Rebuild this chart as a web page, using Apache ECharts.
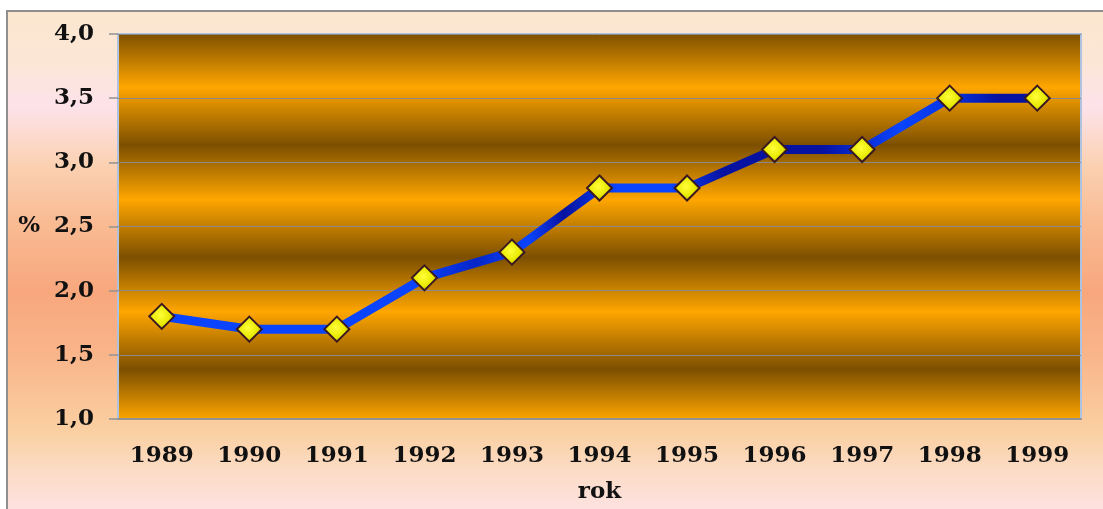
<!DOCTYPE html>
<html>
<head>
<meta charset="utf-8">
<script src="https://cdn.jsdelivr.net/npm/echarts@6/dist/echarts.min.js"></script>
<style>
  html, body { margin: 0; background: #fff; overflow: hidden; width: 1103px; height: 509px; }
  #frame {
    position: absolute; left: 6px; top: 10px; width: 1095px; height: 497px;
    border-left: 2px solid #8f8f8f; border-top: 2px solid #8f8f8f;
    background: linear-gradient(to bottom, #fbe7cf 0px, #fbe6d6 50px, #fde2ea 95px, #fbd2b4 150px,
      #f9bb93 210px, #f8a77d 280px, #f9b489 340px, #fad0a2 420px, #fcdcc6 460px, #fde2e2 499px);
  }
  #chart { position: absolute; left: 0; top: 0; width: 1103px; height: 509px; }
</style>
</head>
<body>
<div id="frame"></div>
<div id="chart"></div>
<script>
  // data
  const years = ["1989", "1990", "1991", "1992", "1993", "1994", "1995", "1996", "1997", "1998", "1999"];
  const values = [1.8, 1.7, 1.7, 2.1, 2.3, 2.8, 2.8, 3.1, 3.1, 3.5, 3.5];

  const dark = "#7c4f00";
  const bright = "#ffa600";
  const navy = "#0712a0";
  const blue = "#0a44ff";
  const labelFont = { fontFamily: "DejaVu Serif", fontWeight: "bold", fontSize: 23, color: "#111" };

  let myChart = echarts.init(document.getElementById("chart"));

  let option = {
    animation: false,
    backgroundColor: "transparent",
    grid: {
      left: 118,
      top: 34,
      right: 22,
      bottom: 88,
      show: true,
      borderColor: "#aec2e2",
      borderWidth: 2,
      backgroundColor: new echarts.graphic.LinearGradient(0, 0, 0, 1, [
        { offset: 0, color: dark },
        { offset: 0.14, color: bright },
        { offset: 0.29, color: dark },
        { offset: 0.43, color: bright },
        { offset: 0.58, color: dark },
        { offset: 0.72, color: bright },
        { offset: 0.87, color: dark },
        { offset: 1, color: bright },
      ]),
    },
    xAxis: {
      type: "category",
      data: years,
      boundaryGap: true,
      name: "rok",
      nameLocation: "middle",
      nameGap: 62,
      nameTextStyle: labelFont,
      axisLine: { lineStyle: { color: "#939393", width: 2 } },
      axisTick: { length: 9, lineStyle: { color: "#939393", width: 1.5 } },
      axisLabel: Object.assign({ margin: 26 }, labelFont),
    },
    yAxis: {
      type: "value",
      min: 1,
      max: 4,
      interval: 0.5,
      name: "%",
      nameLocation: "middle",
      nameRotate: 0,
      nameGap: 78,
      nameTextStyle: labelFont,
      axisLine: { show: false },
      axisTick: { show: true, length: 9, lineStyle: { color: "#939393", width: 1.5 } },
      axisLabel: Object.assign({
        margin: 24,
        formatter: function (value) {
          return value.toFixed(1).replace(".", ",");
        },
      }, labelFont),
      splitLine: { lineStyle: { color: "#8a8a8a", width: 1 } },
    },
    series: [
      {
        type: "line",
        data: values,
        symbol: "diamond",
        symbolSize: 25,
        lineStyle: {
          width: 9,
          color: new echarts.graphic.LinearGradient(0, 0, 1, 0, [
            { offset: 0, color: blue },
            { offset: 0.29, color: blue },
            { offset: 0.36, color: "#0626c8" },
            { offset: 0.42, color: blue },
            { offset: 0.46, color: navy },
            { offset: 0.52, color: blue },
            { offset: 0.58, color: blue },
            { offset: 0.64, color: navy },
            { offset: 0.75, color: navy },
            { offset: 0.84, color: blue },
            { offset: 0.9, color: "#0632e0" },
            { offset: 0.95, color: navy },
            { offset: 1, color: navy },
          ]),
        },
        itemStyle: {
          color: new echarts.graphic.RadialGradient(0.45, 0.45, 0.6, [
            { offset: 0, color: "#ffff3a" },
            { offset: 0.6, color: "#e8e800" },
            { offset: 1, color: "#a8a000" },
          ]),
          borderColor: "#3a1822",
          borderWidth: 2,
        },
      },
    ],
  };

  myChart.setOption(option);
</script>
</body>
</html>
